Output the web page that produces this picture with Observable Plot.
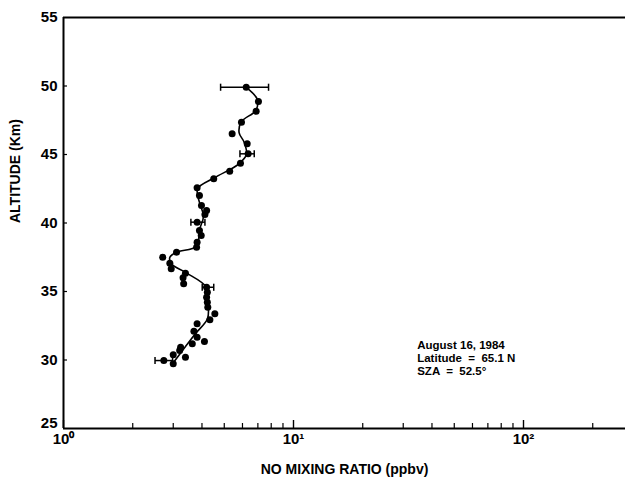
<!DOCTYPE html>
<html>
<head>
<meta charset="utf-8">
<script src="https://cdn.jsdelivr.net/npm/d3@7"></script>
<script src="https://cdn.jsdelivr.net/npm/@observablehq/plot@0.6"></script>
<style>
  html, body { margin: 0; padding: 0; background: #fff; }
  svg { display: block; }
</style>
</head>
<body>
<div id="chart"></div>
<script>
// Measured points: NO mixing ratio (ppbv) vs altitude (km)
const pointAlt = [49.91,48.87,48.16,47.36,46.51,45.78,45.05,44.36,43.78,43.23,42.57,42.01,41.28,40.91,40.62,40.06,39.45,39.09,38.60,38.23,37.87,37.50,37.07,36.66,36.34,36.00,35.56,35.31,34.95,34.58,34.22,33.85,33.37,32.93,32.64,32.10,31.66,31.18,31.35,30.93,30.69,30.38,30.20,29.96,29.72];
const pointNO  = [6.23,7.04,6.88,5.94,5.41,6.29,6.35,5.88,5.28,4.50,3.81,3.90,3.98,4.19,4.12,3.81,3.90,3.97,3.81,3.79,3.10,2.70,2.90,2.94,3.39,3.31,3.33,4.19,4.22,4.19,4.22,4.24,4.55,4.33,3.81,3.69,3.81,3.63,4.10,3.23,3.20,3.00,3.39,2.73,3.00];

// Smoothed profile curve
const curveAlt = [29.8,30.69,31.93,33.03,34.2,35.3,36.4,37.0,37.5,37.87,38.3,39.5,40.5,41.5,42.5,43.3,44.3,45.0,45.9,46.6,47.4,48.2,49.0,49.9];
const curveNO  = [3.0,3.29,3.75,4.23,4.25,4.19,3.39,2.95,2.90,3.10,3.79,3.90,4.06,3.90,3.83,4.53,5.77,6.24,6.10,5.80,5.94,6.84,6.97,6.23];

// Error bars
const errAlt = [49.91,45.05,40.06,35.31,29.96];
const errLo  = [4.82,5.85,3.58,4.01,2.50];
const errHi  = [7.79,6.75,4.12,4.50,2.98];

// Axis ticks
const xMajor = [1, 10, 100];
const xMajorLabels = ["10\u2070", "10\u00b9", "10\u00b2"];
const xMinor = [2,3,4,5,6,7,8,9,20,30,40,50,60,70,80,90,200];
const yTicks = [30,35,40,45,50,55];
const yBottomTick = [25];
const yInnerTicks = [30,35,40,45,50];

// Annotation
const noteLines = ["August 16, 1984", "Latitude  =  65.1 N", "SZA  =  52.5\u00b0"];
const noteX = 34.5;
const noteY = [31.05, 30.1, 29.15];

const points = pointAlt.map((a, i) => ({alt: a, no: pointNO[i]}));
const curve = curveAlt.map((a, i) => ({alt: a, no: curveNO[i]}));
const errs = errAlt.map((a, i) => ({alt: a, lo: errLo[i], hi: errHi[i]}));
const caps = errs.flatMap(d => [{alt: d.alt, no: d.lo}, {alt: d.alt, no: d.hi}]);
const notes = noteLines.map((t, i) => ({t, x: noteX, y: noteY[i]}));

const vbar = { draw(ctx, size) { const r = Math.sqrt(size) / 2; ctx.moveTo(0, -r); ctx.lineTo(0, r); } };

const xMax = Math.pow(10, (625 - 63) / 230);

const chart = Plot.plot({
  width: 625,
  height: 479,
  marginLeft: 63,
  marginRight: 0,
  marginTop: 17,
  marginBottom: 51,
  style: { fontFamily: "'Liberation Sans', Arial, sans-serif", color: "#000", background: "#fff" },
  x: { type: "log", domain: [1, xMax] },
  y: { domain: [25, 55] },
  marks: [
    Plot.axisX({ticks: xMinor, tickSize: -5, tickFormat: () => "", strokeWidth: 1.2}),
    Plot.axisX({ticks: xMajor, tickSize: -8, tickPadding: 13, tickFormat: (d) => xMajorLabels[xMajor.indexOf(d)], fontSize: 15, fontWeight: "bold", strokeWidth: 1.4, label: null}),
    Plot.axisY({ticks: yInnerTicks, tickSize: -4, tickFormat: () => "", strokeWidth: 1.2, label: null}),
    Plot.axisY({ticks: yTicks, tickSize: 0, tickPadding: 6, fontSize: 15, fontWeight: "bold", label: null}),
    Plot.axisY({ticks: yBottomTick, tickSize: 0, tickPadding: 6, dy: -5, fontSize: 15, fontWeight: "bold", label: null}),
    Plot.ruleX([1], {strokeWidth: 2}),
    Plot.ruleY([25, 55], {strokeWidth: 2}),
    Plot.link(errs, {x1: "lo", x2: "hi", y1: "alt", y2: "alt", strokeWidth: 1.5}),
    Plot.dot(caps, {x: "no", y: "alt", symbol: vbar, r: 4, stroke: "black", strokeWidth: 1.5, fill: "none"}),
    Plot.line(curve, {x: "no", y: "alt", curve: "catmull-rom", strokeWidth: 1.6}),
    Plot.dot(points, {x: "no", y: "alt", r: 3.5, fill: "black", stroke: "none"}),
    Plot.text(notes, {x: "x", y: "y", text: "t", textAnchor: "start", fontSize: 11.5, fontWeight: "bold"}),
    Plot.text(["NO MIXING RATIO (ppbv)"], {frameAnchor: "bottom", dy: 45, fontSize: 14, fontWeight: "bold"}),
    Plot.text(["ALTITUDE (Km)"], {frameAnchor: "left", dx: -48, rotate: -90, fontSize: 14, fontWeight: "bold"})
  ]
});
document.getElementById("chart").appendChild(chart);
</script>
</body>
</html>
